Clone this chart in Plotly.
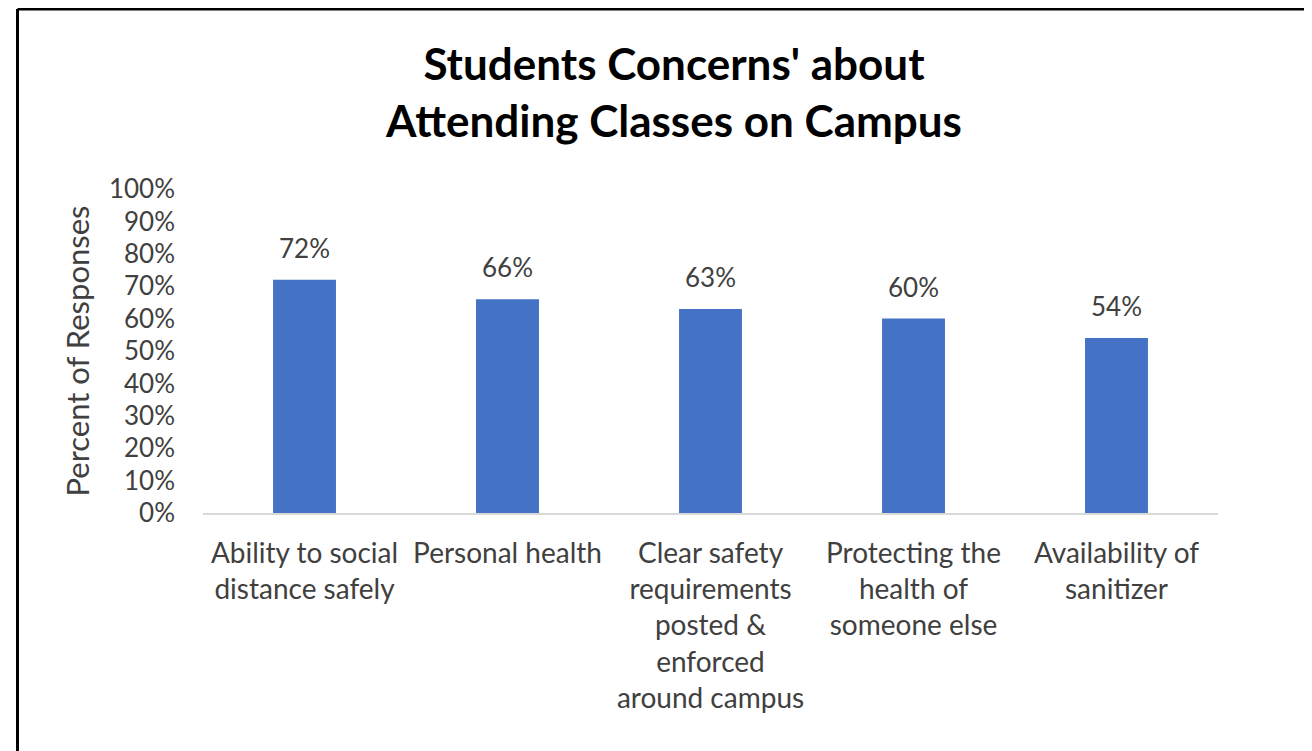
import plotly.graph_objects as go

categories = [
    "Ability to social distance safely",
    "Personal health",
    "Clear safety requirements posted & enforced around campus",
    "Protecting the health of someone else",
    "Availability of sanitizer",
]
tick_labels = [
    "Ability to social<br>distance safely",
    "Personal health",
    "Clear safety<br>requirements<br>posted &<br>enforced<br>around campus",
    "Protecting the<br>health of<br>someone else",
    "Availability of<br>sanitizer",
]
values = [0.72, 0.66, 0.63, 0.60, 0.54]
y_ticks = [0, 0.1, 0.2, 0.3, 0.4, 0.5, 0.6, 0.7, 0.8, 0.9, 1.0]
title_text = "Students Concerns' about<br>Attending Classes on Campus"

W, H = 1304, 743
ML, MR, MT, MB = 195, 94, 181, 238
PW, PH = W - ML - MR, H - MT - MB

def px_x(x):
    return (x - ML) / PW

def px_y(y):
    return (H - MB - y) / PH

FONT = "Lato, 'Open Sans', sans-serif"
TXT = "#404040"

fig = go.Figure()
fig.add_trace(go.Bar(
    x=categories, y=values,
    marker=dict(color="#4472C4", line=dict(width=0)),
    width=0.31,
    hoverinfo="x+y",
))

annotations = []
for c, v in zip(categories, values):
    annotations.append(dict(
        x=c, y=v, xref="x", yref="y", text=f"{round(v*100)}%",
        showarrow=False, yshift=32, yanchor="middle",
        font=dict(family=FONT, size=26, color=TXT),
    ))

fig.update_layout(
    width=W, height=H,
    margin=dict(l=ML, r=MR, t=MT, b=MB, autoexpand=False),
    paper_bgcolor="white", plot_bgcolor="white",
    showlegend=False,
    title=dict(
        text=f"<b>{title_text}</b>",
        x=666 / W, xanchor="center", xref="container",
        y=1 - 72 / H, yanchor="top", yref="container",
        font=dict(family=FONT, size=44, color="#000000"),
    ),
    annotations=annotations,
    font=dict(family=FONT, color=TXT),
    shapes=[
        dict(type="line", xref="paper", yref="paper",
             x0=px_x(9.5), x1=px_x(W + 5), y0=px_y(1), y1=px_y(1),
             line=dict(color="black", width=3)),
        dict(type="line", xref="paper", yref="paper",
             x0=px_x(9.5), x1=px_x(9.5), y0=px_y(1), y1=px_y(H + 5),
             line=dict(color="black", width=3)),
    ],
)

fig.update_xaxes(
    tickmode="array", tickvals=categories, ticktext=tick_labels,
    tickfont=dict(family=FONT, size=28, color=TXT),
    showline=True, linecolor="#D9D9D9", linewidth=2,
    showgrid=False, ticks="", ticklabelstandoff=14,
    range=[-0.5, 4.5],
)
fig.update_yaxes(
    range=[0, 1], tickmode="array", tickvals=y_ticks, tickformat=".0%",
    tickfont=dict(family=FONT, size=26, color=TXT),
    showgrid=False, showline=False, zeroline=False, ticks="",
    ticklabelstandoff=27,
    title=dict(text="Percent of Responses", font=dict(family=FONT, size=31, color=TXT), standoff=10),
)

fig.write_html("out.html")
